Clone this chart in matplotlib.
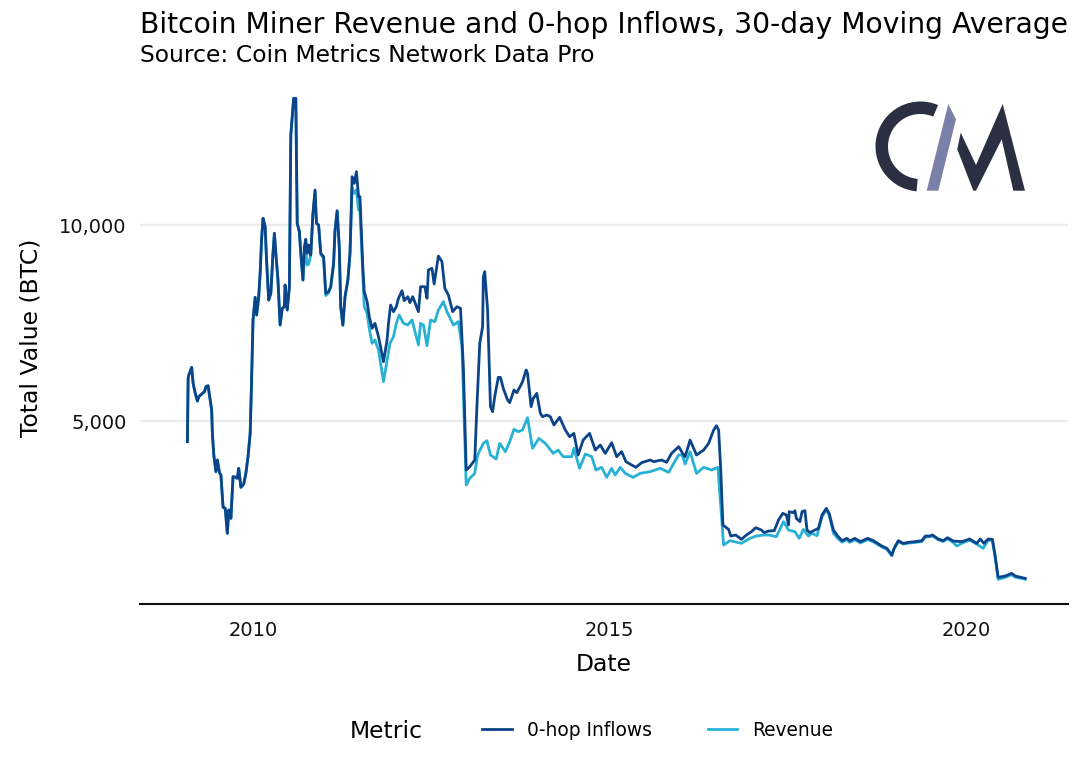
import matplotlib
matplotlib.use("Agg")
import matplotlib.pyplot as plt
from matplotlib.patches import Wedge, Polygon
from matplotlib.ticker import FuncFormatter

# ---- data (decimal year, BTC) ----
shared_years = [2009.08,2009.09,2009.10,2009.14,2009.16,2009.19,2009.22,2009.24,2009.28,2009.32,2009.34,2009.37,2009.40,2009.42,2009.43,2009.45,2009.48,2009.50,2009.53,2009.55,
2009.58,2009.61,2009.64,2009.66,2009.69,2009.72,2009.76,2009.78,2009.80,2009.83,2009.87,2009.90,2009.93,2009.96,2009.98,2010.00,2010.03,2010.05,2010.08,2010.10,
2010.12,2010.14,2010.17,2010.19,2010.22,2010.25,2010.28,2010.30,2010.32,2010.35,2010.38,2010.41,2010.44,2010.45,2010.48,2010.51,2010.53,2010.55,2010.57,2010.60,
2010.62,2010.65,2010.67,2010.70]
shared_values = [4473,6089,6174,6369,5960,5706,5510,5621,5689,5749,5876,5900,5536,5281,4686,4133,3708,4006,3682,3623,
2798,2773,2135,2730,2518,3580,3563,3538,3793,3308,3393,3665,4090,4686,6046,7577,8155,7705,8172,8767,
9618,10170,9958,9107,8087,8257,9277,9788,9277,8597,7449,7874,7917,8470,7832,8427,12296,12764,13231,13231,
10043,9830,9277,8597]

inflow_years = [2010.72,2010.74,2010.76,2010.78,2010.81,2010.84,2010.87,2010.89,2010.92,2010.95,2010.99,2011.02,2011.06,2011.09,2011.13,2011.15,2011.18,2011.21,2011.23,2011.26,
2011.29,2011.33,2011.36,2011.39,2011.42,2011.45,2011.48,2011.50,2011.54,2011.56,2011.60,2011.63,2011.67,2011.71,2011.76,2011.83,2011.88,2011.90,2011.93,2011.97,
2012.01,2012.04,2012.09,2012.12,2012.17,2012.20,2012.24,2012.32,2012.35,2012.41,2012.44,2012.46,2012.51,2012.54,2012.60,2012.65,2012.69,2012.74,2012.80,2012.86,
2012.91,2012.95,2012.99,2013.04,2013.11,2013.14,2013.18,2013.22,2013.23,2013.25,2013.29,2013.31,2013.33,2013.36,2013.39,2013.44,2013.47,2013.51,2013.57,2013.60,
2013.66,2013.70,2013.75,2013.78,2013.83,2013.85,2013.90,2013.93,2013.98,2014.03,2014.06,2014.12,2014.17,2014.22,2014.30,2014.38,2014.44,2014.50,2014.56,2014.63,
2014.72,2014.80,2014.87,2014.94,2015.03,2015.10,2015.17,2015.23,2015.31,2015.37,2015.45,2015.57,2015.62,2015.73,2015.80,2015.87,2015.97,2016.04,2016.06,2016.13,
2016.22,2016.32,2016.39,2016.46,2016.50,2016.53,2016.56,2016.59,2016.67,2016.70,2016.77,2016.85,2016.92,2016.99,2017.05,2017.13,2017.17,2017.23,2017.31,2017.37,
2017.43,2017.48,2017.51,2017.52,2017.58,2017.60,2017.62,2017.67,2017.70,2017.74,2017.77,2017.81,2017.88,2017.93,2017.98,2018.04,2018.08,2018.14,2018.20,2018.26,
2018.33,2018.37,2018.44,2018.52,2018.62,2018.70,2018.82,2018.89,2018.96,2018.99,2019.05,2019.12,2019.19,2019.28,2019.38,2019.43,2019.49,2019.53,2019.61,2019.68,
2019.74,2019.82,2019.94,2020.05,2020.15,2020.20,2020.25,2020.31,2020.37,2020.41,2020.45,2020.55,2020.64,2020.69,2020.83]
inflow_values = [9447,9635,9277,9490,9235,10298,10893,10043,10000,9277,9192,8257,8300,8427,9022,9873,10366,9447,7917,7449,
8172,8597,9277,11233,11063,11361,10723,10723,8937,8300,8045,7662,7364,7492,7152,6514,7067,7492,7959,7789,
7917,8130,8325,8070,8172,8019,8172,7789,8427,8427,8130,8852,8895,8495,9209,9065,8385,8215,7789,7917,
7874,6386,3750,3835,4005,5366,6981,7406,8682,8809,7832,6556,5366,5238,5621,6114,6114,5833,5536,5468,
5791,5723,5893,6003,6301,6216,5366,5578,5706,5196,5111,5153,5111,4898,5094,4770,4600,4685,4133,4515,
4685,4260,4388,4175,4447,4090,4218,3963,3878,3818,3937,4005,3963,4005,3946,4175,4345,4133,4090,4515,
4133,4260,4430,4770,4881,4770,3750,2347,2236,2066,2092,1981,2092,2177,2279,2219,2151,2194,2202,2475,
2645,2602,2347,2687,2662,2713,2517,2432,2687,2713,2219,2151,2219,2262,2602,2772,2645,2219,2066,1947,
2007,1939,2007,1922,2007,1947,1811,1752,1582,1752,1947,1879,1905,1922,1947,2066,2066,2092,1990,1947,
2024,1939,1922,1990,1879,1990,1879,1990,1981,1539,1012,1046,1114,1046,986]

revenue_years = [2010.72,2010.74,2010.76,2010.78,2010.81,2010.84,2010.87,2010.89,2010.92,2010.95,2010.99,2011.02,2011.06,2011.09,2011.13,2011.15,2011.18,2011.21,2011.23,2011.26,
2011.29,2011.33,2011.36,2011.39,2011.42,2011.45,2011.48,2011.50,2011.54,2011.56,2011.60,2011.63,2011.67,2011.71,2011.76,2011.83,2011.88,2011.92,2011.97,2012.01,
2012.05,2012.11,2012.17,2012.23,2012.32,2012.35,2012.39,2012.44,2012.49,2012.55,2012.60,2012.67,2012.72,2012.81,2012.88,2012.93,2012.99,2013.04,2013.11,2013.15,
2013.23,2013.28,2013.33,2013.41,2013.46,2013.54,2013.60,2013.66,2013.72,2013.78,2013.85,2013.92,2014.01,2014.10,2014.21,2014.28,2014.35,2014.47,2014.50,2014.58,
2014.66,2014.75,2014.81,2014.89,2014.96,2015.03,2015.08,2015.15,2015.22,2015.33,2015.43,2015.57,2015.71,2015.83,2015.90,2015.97,2016.02,2016.06,2016.13,2016.22,
2016.32,2016.43,2016.52,2016.60,2016.69,2016.85,2016.97,2017.06,2017.16,2017.23,2017.34,2017.44,2017.51,2017.60,2017.66,2017.72,2017.79,2017.84,2017.91,2017.98,
2018.04,2018.08,2018.14,2018.20,2018.26,2018.33,2018.37,2018.44,2018.52,2018.62,2018.70,2018.82,2018.89,2018.96,2018.99,2019.05,2019.12,2019.19,2019.28,2019.38,
2019.43,2019.49,2019.53,2019.61,2019.68,2019.74,2019.82,2019.87,2019.94,2020.05,2020.15,2020.24,2020.31,2020.37,2020.41,2020.45,2020.55,2020.64,2020.69,2020.83]
revenue_values = [9100,9300,8980,9000,9235,10250,10850,10043,10000,9250,9150,8200,8270,8427,9000,9850,10340,9400,7900,7440,
8150,8580,9250,10950,10808,10900,10383,10350,8700,7917,7747,7364,6982,7067,6811,6004,6557,6982,7152,7492,
7704,7492,7449,7577,6939,7492,7449,6922,7577,7534,7832,8045,7789,7449,7534,6897,3368,3537,3665,4133,
4430,4498,4133,4031,4430,4218,4473,4787,4728,4770,5085,4303,4558,4430,4175,4260,4090,4090,4303,3793,
4158,4090,3750,3818,3563,3793,3623,3818,3665,3563,3665,3707,3793,3690,3920,4133,4133,3903,4218,3665,
3818,3750,3818,1837,1947,1879,2007,2066,2092,2092,2049,2432,2219,2177,2007,2236,2066,2134,2075,2560,
2730,2602,2134,2007,1910,1970,1905,1970,1890,1975,1915,1785,1725,1560,1730,1925,1860,1885,1900,1925,
2040,2045,2070,1970,1925,2000,1900,1811,1880,1960,1860,1752,1960,1950,1500,961,1010,1080,1015,965]

y_ticks = [5000, 10000]
x_ticks = [2010, 2015, 2020]

inflow_color = "#0B4488"
revenue_color = "#27B1D5"

W, H = 1080, 771
fig = plt.figure(figsize=(W / 100, H / 100), dpi=100, facecolor="white")
L, R, T, B = 140, 1068, 73, 604
ax = fig.add_axes([L / W, 1 - B / H, (R - L) / W, (B - T) / H])

ax.plot(shared_years + revenue_years, shared_values + revenue_values, color=revenue_color, lw=2.0, label="Revenue", zorder=3, solid_joinstyle="round")
ax.plot(shared_years + inflow_years, shared_values + inflow_values, color=inflow_color, lw=2.0, label="0-hop Inflows", zorder=4, solid_joinstyle="round")

ax.set_xlim(2008.415, 2021.43)
ax.set_ylim(332, 13878)
ax.set_xticks(x_ticks)
ax.set_yticks(y_ticks)
ax.yaxis.set_major_formatter(FuncFormatter(lambda v, _: f"{int(v):,}"))
ax.tick_params(length=0, labelsize=14, labelcolor="#111111")
ax.tick_params(axis="x", pad=12.5)
ax.tick_params(axis="y", pad=9.5)
ax.grid(axis="y", color="#EBEBEB", lw=1.7)
ax.set_axisbelow(True)
for s in ("top", "left", "right"):
    ax.spines[s].set_visible(False)
ax.spines["bottom"].set_color("#111111")
ax.spines["bottom"].set_linewidth(1.5)

fig.text(140 / W, 1 - 33 / H, "Bitcoin Miner Revenue and 0-hop Inflows, 30-day Moving Average", fontsize=20.33, va="baseline", ha="left", color="black")
fig.text(140 / W, 1 - 61.5 / H, "Source: Coin Metrics Network Data Pro", fontsize=16.9, va="baseline", ha="left", color="black")
fig.text(604 / W, 1 - 671 / H, "Date", fontsize=16.9, ha="center", va="baseline")
fig.text(31 / W, 1 - 338 / H, "Total Value (BTC)", fontsize=16.9, rotation=90, ha="center", va="center")
fig.text(350 / W, 1 - 738 / H, "Metric", fontsize=16.9, ha="left", va="baseline")

h, l = ax.get_legend_handles_labels()
fig.legend(h[::-1], l[::-1], ncol=2, frameon=False, fontsize=13.4,
           loc="center left", bbox_to_anchor=(473 / W, 1 - 730 / H),
           handlelength=1.6, handletextpad=0.8, columnspacing=3.0, borderpad=0.5, borderaxespad=0)

# logo overlay in pixel coordinates
ov = fig.add_axes([0, 0, 1, 1], zorder=10)
ov.set_xlim(0, W)
ov.set_ylim(H, 0)
ov.axis("off")
ov.patch.set_alpha(0)
ov.add_patch(Wedge((920.5, 146.5), 45, 95, 293, width=12.5, facecolor="#2A2F42", edgecolor="none"))
ov.add_patch(Polygon([(948.3, 104), (956, 119.3), (938.3, 190.7), (926.7, 190.7)], closed=True, facecolor="#7B80A8", edgecolor="none"))
ov.add_patch(Polygon([(960.7, 132.7), (976, 165), (1002.7, 104), (1025, 190.7), (1013.3, 190.7), (1001.7, 139.3),
                      (976, 190.7), (973.3, 190.7), (957.3, 149.3)], closed=True, facecolor="#2A2F42", edgecolor="none"))

fig.savefig("out.png", dpi=100, facecolor="white")
